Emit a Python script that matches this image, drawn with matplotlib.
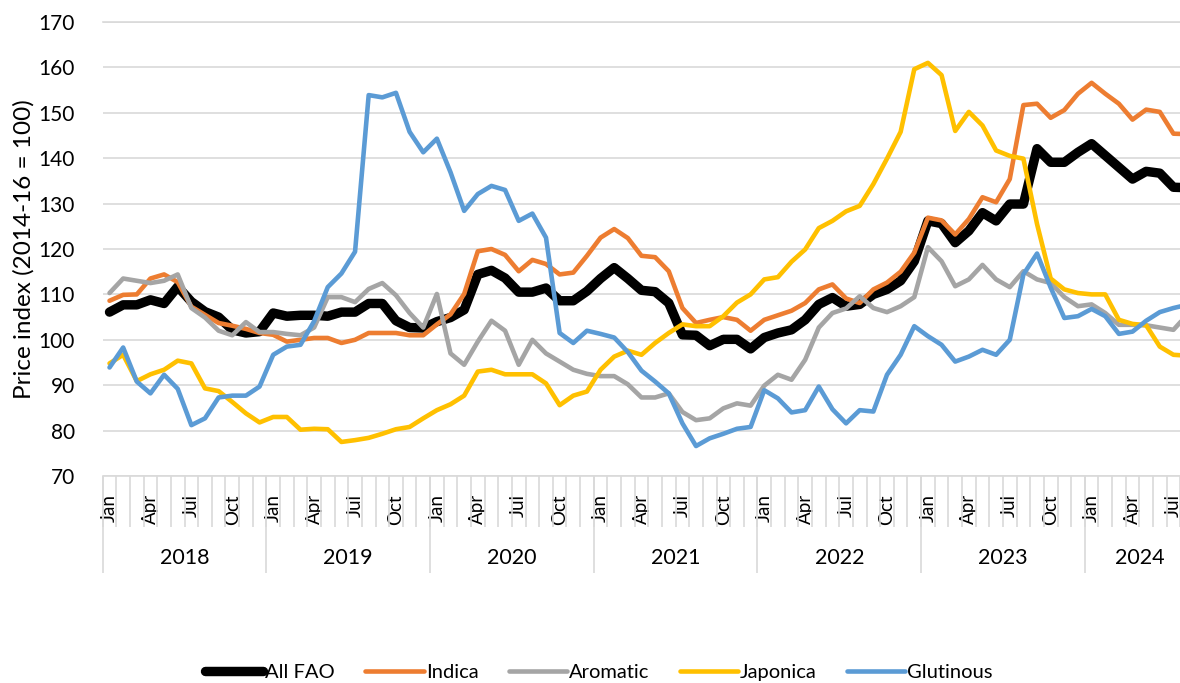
import matplotlib
matplotlib.use("Agg")
import matplotlib.pyplot as plt
from matplotlib.lines import Line2D

years = ["2018", "2019", "2020", "2021", "2022", "2023", "2024"]
month_names = ["Jan", "Feb", "Mar", "Apr", "May", "Jun",
               "Jul", "Aug", "Sep", "Oct", "Nov", "Dec"]
months_in_year = [12, 12, 12, 12, 12, 12, 8]
shown_months = ["Jan", "Apr", "Jul", "Oct"]

series_names = ["All FAO", "Indica", "Aromatic", "Japonica", "Glutinous"]

all_fao = [106.1, 107.7, 107.7, 108.8, 108.0, 111.7, 108.4, 106.2, 105.0, 102.2, 101.5, 101.8,
           105.9, 105.2, 105.4, 105.4, 105.2, 106.1, 106.1, 108.0, 108.0, 104.2, 102.7, 102.6,
           104.0, 104.9, 106.6, 114.4, 115.3, 113.6, 110.5, 110.5, 111.4, 108.6, 108.6, 110.7,
           113.5, 115.9, 113.5, 110.9, 110.6, 108.1, 101.1, 101.0, 98.7, 100.1, 100.1, 98.0,
           100.5, 101.5, 102.2, 104.4, 107.8, 109.3, 107.4, 107.8, 110.0, 111.1, 113.0, 117.3,
           126.2, 125.6, 121.4, 124.0, 128.0, 126.2, 129.9, 129.9, 142.1, 139.1, 139.1, 141.3,
           143.2, 140.6, 138.0, 135.4, 137.1, 136.7, 133.6, 133.5]

indica = [108.6, 109.9, 110.0, 113.5, 114.4, 112.7, 107.3, 105.5, 103.7, 103.1, 102.4, 101.5,
          101.1, 99.6, 100.0, 100.4, 100.4, 99.3, 100.0, 101.5, 101.5, 101.5, 101.0, 101.0,
          103.4, 105.6, 110.1, 119.5, 120.0, 118.7, 115.1, 117.6, 116.7, 114.4, 114.8, 118.5,
          122.5, 124.4, 122.4, 118.5, 118.2, 115.1, 107.0, 103.7, 104.4, 105.0, 104.4, 102.0,
          104.4, 105.4, 106.4, 108.1, 111.1, 112.2, 109.1, 108.1, 111.1, 112.6, 115.0, 119.2,
          126.9, 126.3, 123.2, 126.6, 131.4, 130.3, 135.4, 151.7, 152.0, 148.9, 150.6, 154.2,
          156.6, 154.2, 152.0, 148.5, 150.7, 150.2, 145.4, 145.3]

aromatic = [110.3, 113.5, 113.0, 112.5, 113.0, 114.4, 107.0, 104.9, 102.0, 101.0, 103.9, 101.7,
            101.7, 101.3, 101.0, 102.7, 109.4, 109.4, 108.3, 111.2, 112.5, 109.8, 105.9, 102.7,
            110.1, 97.0, 94.5, 99.6, 104.2, 102.0, 94.5, 100.0, 97.0, 95.2, 93.4, 92.5,
            92.0, 92.0, 90.2, 87.3, 87.3, 88.2, 84.1, 82.3, 82.7, 84.9, 86.0, 85.5,
            89.9, 92.3, 91.2, 95.6, 102.7, 105.9, 106.9, 109.6, 107.0, 106.1, 107.4, 109.4,
            120.4, 117.3, 111.8, 113.3, 116.5, 113.3, 111.6, 115.1, 113.3, 112.5, 109.4, 107.4,
            107.8, 105.9, 103.3, 103.3, 103.2, 102.7, 102.2, 105.5]

japonica = [94.8, 96.7, 90.9, 92.4, 93.4, 95.4, 94.8, 89.3, 88.7, 86.3, 83.8, 81.8,
            83.0, 83.0, 80.2, 80.4, 80.3, 77.5, 77.9, 78.4, 79.3, 80.3, 80.8, 82.7,
            84.5, 85.8, 87.7, 93.0, 93.4, 92.4, 92.4, 92.4, 90.4, 85.6, 87.7, 88.6,
            93.4, 96.3, 97.6, 96.7, 99.3, 101.5, 103.4, 103.0, 103.0, 105.2, 108.2, 110.0,
            113.3, 113.8, 117.2, 119.9, 124.6, 126.2, 128.3, 129.5, 134.3, 139.9, 145.8, 159.6,
            161.0, 158.3, 146.0, 150.2, 147.2, 141.7, 140.5, 139.9, 125.5, 113.5, 111.1, 110.3,
            110.0, 110.0, 104.4, 103.5, 103.2, 98.5, 96.7, 96.5]

glutinous = [93.9, 98.3, 90.8, 88.2, 92.3, 89.2, 81.2, 82.7, 87.3, 87.7, 87.7, 89.7,
             96.7, 98.5, 98.9, 104.1, 111.6, 114.6, 119.4, 153.9, 153.4, 154.4, 145.8, 141.3,
             144.3, 136.9, 128.4, 132.1, 133.9, 133.0, 126.2, 127.8, 122.5, 101.5, 99.3, 102.0,
             101.3, 100.5, 97.3, 93.2, 90.8, 88.2, 81.6, 76.6, 78.3, 79.3, 80.4, 80.8,
             88.9, 87.1, 84.0, 84.5, 89.7, 84.7, 81.6, 84.5, 84.2, 92.3, 96.7, 103.0,
             100.8, 98.9, 95.2, 96.3, 97.8, 96.7, 100.0, 114.4, 119.0, 111.5, 104.8, 105.2,
             106.8, 105.2, 101.3, 101.8, 104.2, 106.1, 107.0, 107.7]

series_values = [all_fao, indica, aromatic, japonica, glutinous]
colors = ["#000000", "#ED7D31", "#A5A5A5", "#FFC000", "#5B9BD5"]
widths = [6.8, 3.3, 3.3, 3.3, 3.3]

FONT = ["Lato", "DejaVu Sans"]
plt.rcParams["font.family"] = FONT
GRID = "#D9D9D9"

W, H = 1180, 683
fig = plt.figure(figsize=(W / 100, H / 100), dpi=100)
n = len(all_fao)
px_month = 13.64
left_px, top_px, bottom_px = 102.7, 22, 476
ax = fig.add_axes([left_px / W, 1 - bottom_px / H,
                   n * px_month / W, (bottom_px - top_px) / H])

x = list(range(n))
for vals, c, lw, name in zip(series_values, colors, widths, series_names):
    ax.plot(x, vals, color=c, lw=lw, solid_joinstyle="round",
            solid_capstyle="round", label=name)

ax.set_xlim(-0.5, n - 0.5)
ax.set_ylim(70, 170)
ax.set_yticks(range(70, 171, 10))
ax.yaxis.grid(True, color=GRID, lw=1.2)
ax.set_axisbelow(True)
for s in ["left", "right"]:
    ax.spines[s].set_visible(False)
for s in ["top", "bottom"]:
    ax.spines[s].set_color(GRID)
    ax.spines[s].set_linewidth(1.2)
ax.tick_params(axis="y", length=0, pad=20, labelsize=15)

# month category labels
labels = []
for k, cnt in enumerate(months_in_year):
    for m in range(cnt):
        nm = month_names[m]
        labels.append(nm if nm in shown_months else "")
ax.set_xticks(x)
ax.set_xticklabels(labels, rotation=90, fontsize=13.5)
ax.tick_params(axis="x", length=0, pad=13)

# separators
axh = bottom_px - top_px
xt = ax.get_xaxis_transform()
month_sep = [i - 0.5 for i in range(n + 1)]
ax.vlines(month_sep, -51 / axh, 0, transform=xt, color=GRID, lw=1.2, clip_on=False)
starts = [0]
for cnt in months_in_year:
    starts.append(starts[-1] + cnt)
ax.vlines([s - 0.5 for s in starts], -97 / axh, 0, transform=xt, color=GRID,
          lw=1.2, clip_on=False)
for yr, s0, cnt in zip(years, starts, months_in_year):
    ax.text(s0 - 0.5 + cnt / 2, -(558 - bottom_px) / axh, yr, transform=xt,
            ha="center", va="center", fontsize=15.5)

ax.set_ylabel("Price index (2014-16 = 100)", fontsize=17.5, labelpad=3)

handles = [Line2D([], [], color=c, lw=lw, solid_capstyle="round") for c, lw in zip(colors, widths)]
fig.legend(handles, series_names, loc="center", bbox_to_anchor=(599 / W, 1 - 672 / H),
           ncol=5, frameon=False, fontsize=14.5, handlelength=2.9, handletextpad=0.1,
           columnspacing=1.5)

fig.savefig("out.png", dpi=100)
